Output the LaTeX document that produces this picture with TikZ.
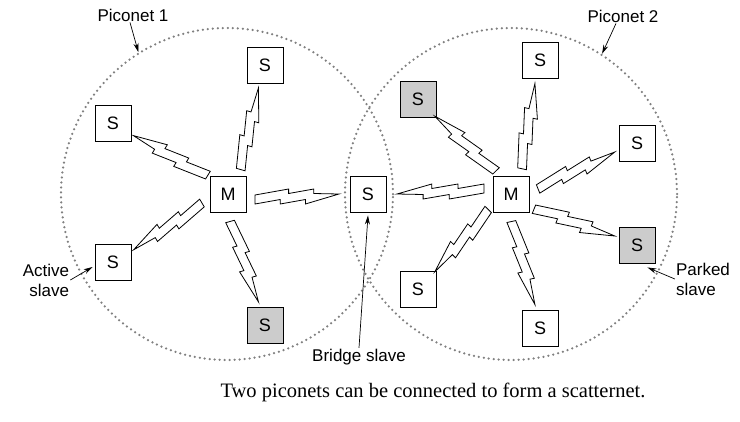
\documentclass[tikz,border=0pt]{standalone}
\usepackage{fontspec}
\setmainfont{Liberation Serif}
\setsansfont{Liberation Sans}
\usetikzlibrary{calc,arrows.meta}

\tikzset{
  unit/.style={draw, line width=0.9pt, fill=white, minimum size=36pt, inner sep=0pt,
    font=\sffamily\fontsize{18}{21}\selectfont},
  parked/.style={unit, fill=black!20},
  piconet/.style={circle, draw=black!50, line width=2.5pt, line cap=round,
    dash pattern=on 0pt off 5pt, minimum size=332pt, inner sep=0pt},
  boltline/.style={draw=black, fill=white, line width=0.8pt},
  note/.style={font=\sffamily\fontsize{17}{20}\selectfont, inner sep=1pt},
  pointer/.style={-{Stealth[length=9pt,width=5pt]}, line width=0.7pt}
}

% point of a bolt: fraction along bs--be, offset sideways
\newcommand\bp[2]{($($(bs)!#1!(be)$)!#2!90:(be)$)}
\newcommand\bolt[3][24pt]{%
  \coordinate (bs) at ($(#2)!27pt!(#3)$);
  \coordinate (be) at ($(#3)!#1!(#2)$);
  \draw[boltline] \bp{0}{-1pt} -- \bp{.4}{5pt} -- \bp{.4}{.5pt} -- \bp{.7}{5pt}
    -- \bp{.7}{.5pt} -- (be) -- \bp{.6}{-10pt} -- \bp{.6}{-5.5pt}
    -- \bp{.3}{-10pt} -- \bp{.3}{-5.5pt} -- \bp{0}{-10pt} -- cycle;
}

\begin{document}
\begin{tikzpicture}[x=1pt, y=-1pt]
\useasboundingbox (0,0) rectangle (740,421);

% the two piconets
\node[piconet] (pico1) at (227,194) {};
\node[piconet] (pico2) at (511,194) {};

% piconet 1
\node[unit] (m1) at (228,194) {M};
\node[unit] (s1) at (265,65) {S};
\node[unit] (s2) at (113,123) {S};
\node[unit] (s3) at (113,262) {S};
\node[parked] (s4) at (265,325) {S};

% bridge
\node[unit] (br) at (368,194) {S};

% piconet 2
\node[unit] (m2) at (511,194) {M};
\node[parked] (t1) at (418,99) {S};
\node[unit] (t2) at (540,60) {S};
\node[unit] (t3) at (637,143) {S};
\node[parked] (t4) at (637,245) {S};
\node[unit] (t5) at (540,328) {S};
\node[unit] (t6) at (418,289) {S};

% radio links
\bolt{m1}{s1}
\bolt{m1}{s2}
\bolt{m1}{s3}
\bolt{m1}{s4}
\bolt[29pt]{m1}{br}
\bolt[29pt]{m2}{br}
\bolt{m2}{t1}
\bolt{m2}{t2}
\bolt{m2}{t3}
\bolt{m2}{t4}
\bolt{m2}{t5}
\bolt{m2}{t6}

% labels
\node[note] (pn1) at (133,15) {Piconet 1};
\node[note] (pn2) at (623,16) {Piconet 2};
\node[note, align=right] (act) at (46,280) {Active\\slave};
\node[note, align=left] (park) at (703,279) {Parked\\slave};
\node[note] (brl) at (359,357) {Bridge slave};

\draw[pointer] ([xshift=-3pt]pn1.south) -- (pico1.122);
\draw[pointer] ([xshift=-7pt]pn2.south) -- (pico2.57);
\draw[pointer] (act.east) -- ([shift={(-2,5)}]s3.west);
\draw[pointer] (park.west) -- ([shift={(-8,4)}]t4.south east);
\draw[pointer] (brl.north) -- ([yshift=-3pt]br.south);

\node[font=\rmfamily\fontsize{20.5}{24}\selectfont] (cap) at (433,392)
  {Two piconets can be connected to form a scatternet.};
\end{tikzpicture}
\end{document}
